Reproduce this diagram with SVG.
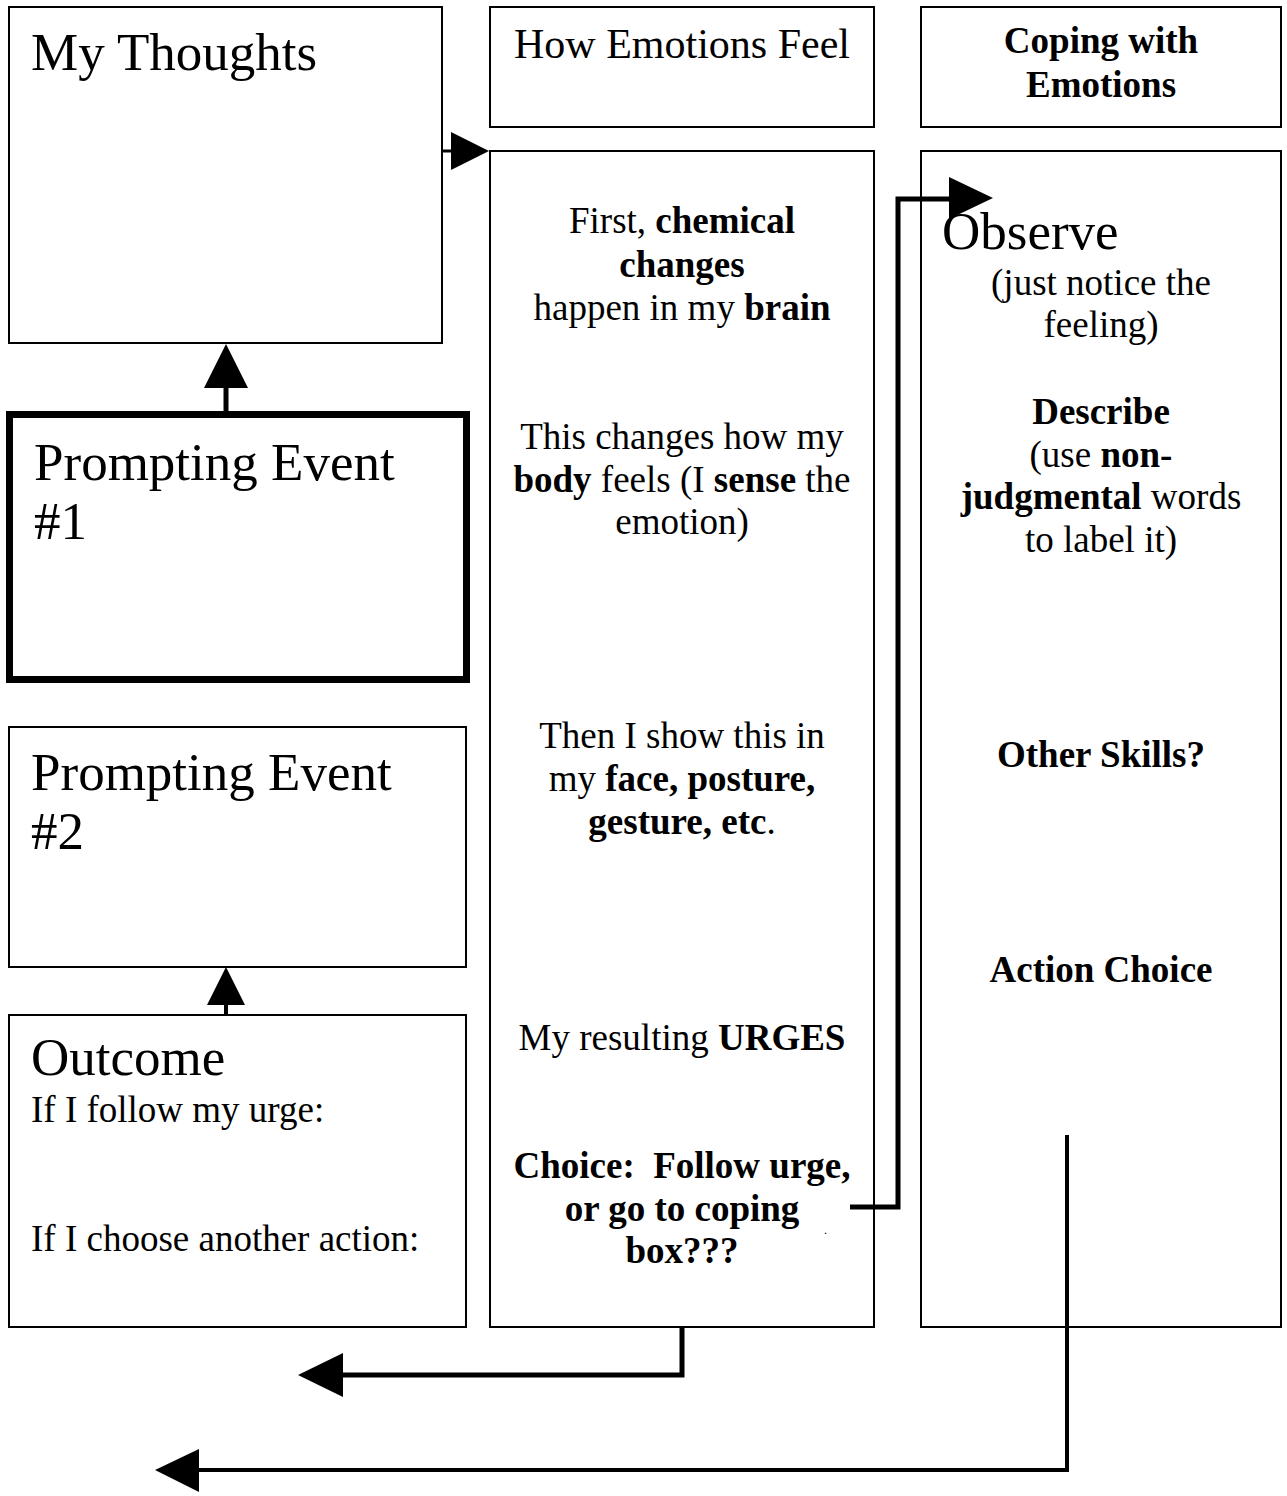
<svg xmlns="http://www.w3.org/2000/svg" width="1287" height="1496" viewBox="0 0 1287 1496">
<style>
.box{fill:#fff;stroke:#000;stroke-width:2}
.thick{fill:#fff;stroke:#000;stroke-width:7}
.t{font-family:"Liberation Serif","Times New Roman",serif;fill:#000}
.big{font-size:53px}
.hd{font-size:42px}
.n{font-size:37px}
.c{text-anchor:middle}
.b{font-weight:bold}
.ln{fill:none;stroke:#000;stroke-linecap:butt;stroke-linejoin:miter}
.ah{fill:#000;stroke:none}
</style>
<rect width="1287" height="1496" fill="#fff"/>
<g id="my-thoughts">
  <rect class="box" x="9" y="7" width="433" height="336"/>
  <text class="t big" x="31" y="70">My Thoughts</text>
</g>
<g id="how-emotions-feel">
  <rect class="box" x="490" y="7" width="384" height="120"/>
  <text class="t hd c" x="682" y="58">How Emotions Feel</text>
</g>
<g id="coping-header">
  <rect class="box" x="921" y="7" width="360" height="120"/>
  <text class="t n b c" x="1101" y="53">Coping with</text>
  <text class="t n b c" x="1101" y="97">Emotions</text>
</g>
<g id="prompting-event-1">
  <rect class="thick" x="9.5" y="414.5" width="457" height="265"/>
  <text class="t big" x="34" y="480">Prompting Event</text>
  <text class="t big" x="34" y="539">#1</text>
</g>
<g id="prompting-event-2">
  <rect class="box" x="9" y="727" width="457" height="240"/>
  <text class="t big" x="31" y="790">Prompting Event</text>
  <text class="t big" x="31" y="849">#2</text>
</g>
<g id="outcome">
  <rect class="box" x="9" y="1015" width="457" height="312"/>
  <text class="t big" x="31" y="1075">Outcome</text>
  <text class="t n" x="31" y="1122">If I follow my urge:</text>
  <text class="t n" x="31" y="1251">If I choose another action:</text>
</g>
<g id="emotion-steps">
  <rect class="box" x="490" y="151" width="384" height="1176"/>
  <text class="t n c" x="682" y="233">First, <tspan class="b">chemical</tspan></text>
  <text class="t n c b" x="682" y="277">changes</text>
  <text class="t n c" x="682" y="320">happen in my <tspan class="b">brain</tspan></text>
  <text class="t n c" x="682" y="449">This changes how my</text>
  <text class="t n c" x="682" y="492"><tspan class="b">body</tspan> feels (I <tspan class="b">sense</tspan> the</text>
  <text class="t n c" x="682" y="534">emotion)</text>
  <text class="t n c" x="682" y="748">Then I show this in</text>
  <text class="t n c" x="682" y="791">my <tspan class="b">face, posture,</tspan></text>
  <text class="t n c" x="682" y="834"><tspan class="b">gesture, etc</tspan>.</text>
  <text class="t n c" x="682" y="1050">My resulting <tspan class="b">URGES</tspan></text>
  <text class="t n c b" x="682" y="1178" style="white-space:pre">Choice:  Follow urge,</text>
  <text class="t n c b" x="682" y="1221">or go to coping</text>
  <text class="t n c b" x="682" y="1263">box???</text>
  <text class="t" x="824" y="1234" font-size="12">.</text>
</g>
<g id="coping-skills">
  <rect class="box" x="921" y="151" width="360" height="1176"/>
  <text class="t big" x="942" y="249">Observe</text>
  <text class="t n c" x="1101" y="295">(just notice the</text>
  <text class="t n c" x="1101" y="337">feeling)</text>
  <text class="t n c b" x="1101" y="424">Describe</text>
  <text class="t n c" x="1101" y="467">(use <tspan class="b">non-</tspan></text>
  <text class="t n c" x="1101" y="509"><tspan class="b">judgmental</tspan> words</text>
  <text class="t n c" x="1101" y="552">to label it)</text>
  <text class="t n c b" x="1101" y="767">Other Skills?</text>
  <text class="t n c b" x="1101" y="982">Action Choice</text>
</g>
<g id="connectors">
  <line class="ln" x1="442" y1="151" x2="452" y2="151" stroke-width="3"/>
  <polygon class="ah" points="451,132 489,151 451,170"/>
  <line class="ln" x1="226" y1="411" x2="226" y2="386" stroke-width="5"/>
  <polygon class="ah" points="204,388 226,344 248,388"/>
  <line class="ln" x1="226" y1="1015" x2="226" y2="1003" stroke-width="4"/>
  <polygon class="ah" points="207,1005 226,967 245,1005"/>
  <polyline class="ln" points="850,1207 898,1207 898,199 950,199" stroke-width="5"/>
  <polygon class="ah" points="949,177 993,198 949,219"/>
  <polyline class="ln" points="682,1327 682,1375 340,1375" stroke-width="5"/>
  <polygon class="ah" points="343,1353 298,1375 343,1397"/>
  <polyline class="ln" points="1067,1135 1067,1470 196,1470" stroke-width="4"/>
  <polygon class="ah" points="199,1449 155,1470 199,1492"/>
</g>
</svg>
